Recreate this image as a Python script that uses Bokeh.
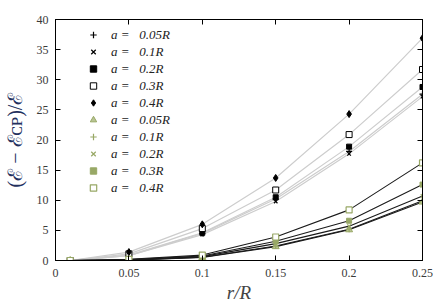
from bokeh.plotting import figure
from bokeh.models import Legend, LegendItem, LinearAxis, Range1d, FixedTicker, Label
from bokeh.embed import file_html
from bokeh.resources import INLINE

# ---- data ----
r_over_R = [0.01, 0.05, 0.10, 0.15, 0.20, 0.25]
a_labels = ["0.05R", "0.1R", "0.2R", "0.3R", "0.4R"]

# series drawn with black markers and light grey lines
grey_vals = {
    "0.05R": [0.0, 0.8, 4.5, 10.2, 18.1, 27.6],
    "0.1R":  [0.0, 0.8, 4.3, 9.8, 17.7, 27.2],
    "0.2R":  [0.0, 0.9, 4.6, 10.5, 18.9, 28.8],
    "0.3R":  [0.0, 1.1, 5.3, 11.7, 20.9, 31.7],
    "0.4R":  [0.0, 1.4, 6.0, 13.7, 24.3, 36.9],
}
# series drawn with olive markers and black lines
olive_vals = {
    "0.05R": [0.0, 0.05, 0.50, 2.3, 5.1, 9.7],
    "0.1R":  [0.0, 0.05, 0.55, 2.4, 5.2, 9.9],
    "0.2R":  [0.0, 0.10, 0.65, 2.8, 5.7, 10.7],
    "0.3R":  [0.0, 0.15, 0.75, 3.2, 6.6, 12.6],
    "0.4R":  [0.0, 0.20, 0.90, 3.9, 8.4, 16.2],
}
x_ticks = [0, 0.05, 0.1, 0.15, 0.2, 0.25]
y_ticks = [0, 5, 10, 15, 20, 25, 30, 35, 40]

GREY = "#cdcdcd"
BLACK = "#1a1a1a"
OLIVE = "#98a866"
SERIF = "Liberation Serif"

p = figure(width=433, height=305, output_backend="svg", toolbar_location=None,
           x_range=Range1d(0, 0.25), y_range=Range1d(0, 40),
           min_border_top=19, min_border_right=11, min_border_left=54, min_border_bottom=43)
p.grid.visible = False
p.outline_line_color = "black"
p.outline_line_width = 1
p.background_fill_color = "white"
p.border_fill_color = "white"

xo = {t: f"{t:g}" for t in x_ticks}
yo = {t: f"{t:g}" for t in y_ticks}

def style_axis(ax):
    ax.major_tick_in = 5
    ax.major_tick_out = 0
    ax.minor_tick_in = 0
    ax.minor_tick_out = 0
    ax.axis_line_color = "black"
    ax.major_tick_line_color = "black"
    ax.major_label_text_font = SERIF
    ax.major_label_text_font_size = "12px"
    ax.major_label_text_color = "#3a3a3a"

p.xaxis.ticker = FixedTicker(ticks=x_ticks)
p.yaxis.ticker = FixedTicker(ticks=y_ticks)
p.xaxis.major_label_overrides = xo
p.yaxis.major_label_overrides = yo
style_axis(p.xaxis[0])
style_axis(p.yaxis[0])
p.xaxis.major_label_standoff = 8
p.yaxis.major_label_standoff = 7

p.xaxis.axis_label = "r/R"
p.xaxis.axis_label_text_font = SERIF
p.xaxis.axis_label_text_font_style = "italic"
p.xaxis.axis_label_text_font_size = "19px"
p.xaxis.axis_label_standoff = 2

p.yaxis.axis_label = "(ℰ − ℰᴄᴘ)/ℰ"
p.yaxis.axis_label_text_font = SERIF
p.yaxis.axis_label_text_font_style = "normal"
p.yaxis.axis_label_text_font_size = "20px"
p.yaxis.axis_label_text_color = "#23305e"
p.yaxis.axis_label_standoff = 8

top = LinearAxis(ticker=FixedTicker(ticks=x_ticks),
                 major_label_overrides={t: "" for t in x_ticks}, major_label_standoff=0)
style_axis(top)
p.add_layout(top, "above")
right = LinearAxis(ticker=FixedTicker(ticks=y_ticks),
                   major_label_overrides={t: "" for t in y_ticks}, major_label_standoff=0)
style_axis(right)
p.add_layout(right, "right")

# lines
for lab in a_labels:
    p.line(r_over_R, grey_vals[lab], line_color=GREY, line_width=1.2)
for lab in a_labels:
    p.line(r_over_R, olive_vals[lab], line_color=BLACK, line_width=1.1)

# markers
grey_markers = {
    "0.05R": dict(marker="cross", size=6, line_color="black", line_width=1.2),
    "0.1R": dict(marker="x", size=5, line_color="black", line_width=1.2),
    "0.2R": dict(marker="square", size=5, line_color="black", fill_color="black"),
    "0.3R": dict(marker="square", size=6, line_color="black", fill_color="white", line_width=1),
    "0.4R": dict(marker="diamond", size=7, line_color="black", fill_color="black"),
}
olive_markers = {
    "0.05R": dict(marker="triangle", size=7, line_color=OLIVE, fill_color="#b8c493"),
    "0.1R": dict(marker="cross", size=6, line_color=OLIVE, line_width=1.2),
    "0.2R": dict(marker="x", size=5, line_color=OLIVE, line_width=1.2),
    "0.3R": dict(marker="square", size=5, line_color=OLIVE, fill_color=OLIVE),
    "0.4R": dict(marker="square", size=6, line_color=OLIVE, fill_color="white", line_width=1.2),
}

items = []
for lab in a_labels:
    r = p.scatter(r_over_R, grey_vals[lab], **grey_markers[lab])
    items.append(LegendItem(label=f"a =   {lab}", renderers=[r]))
for lab in a_labels:
    r = p.scatter(r_over_R, olive_vals[lab], **olive_markers[lab])
    items.append(LegendItem(label=f"a =   {lab}", renderers=[r]))

legend = Legend(items=items, location=(30, 64), border_line_alpha=0,
                background_fill_alpha=0, padding=0, margin=0, spacing=0,
                glyph_width=16, glyph_height=17, label_height=17,
                label_standoff=10, label_text_font=SERIF,
                label_text_font_style="italic", label_text_font_size="13px",
                label_text_color="#222222")
p.add_layout(legend)

pct = Label(x=0, y=40, text="%", x_offset=3, y_offset=1, text_baseline="bottom",
            text_font=SERIF, text_font_size="15px", text_color="#222222")
p.add_layout(pct)

open("out.html", "w").write(file_html(p, INLINE))
